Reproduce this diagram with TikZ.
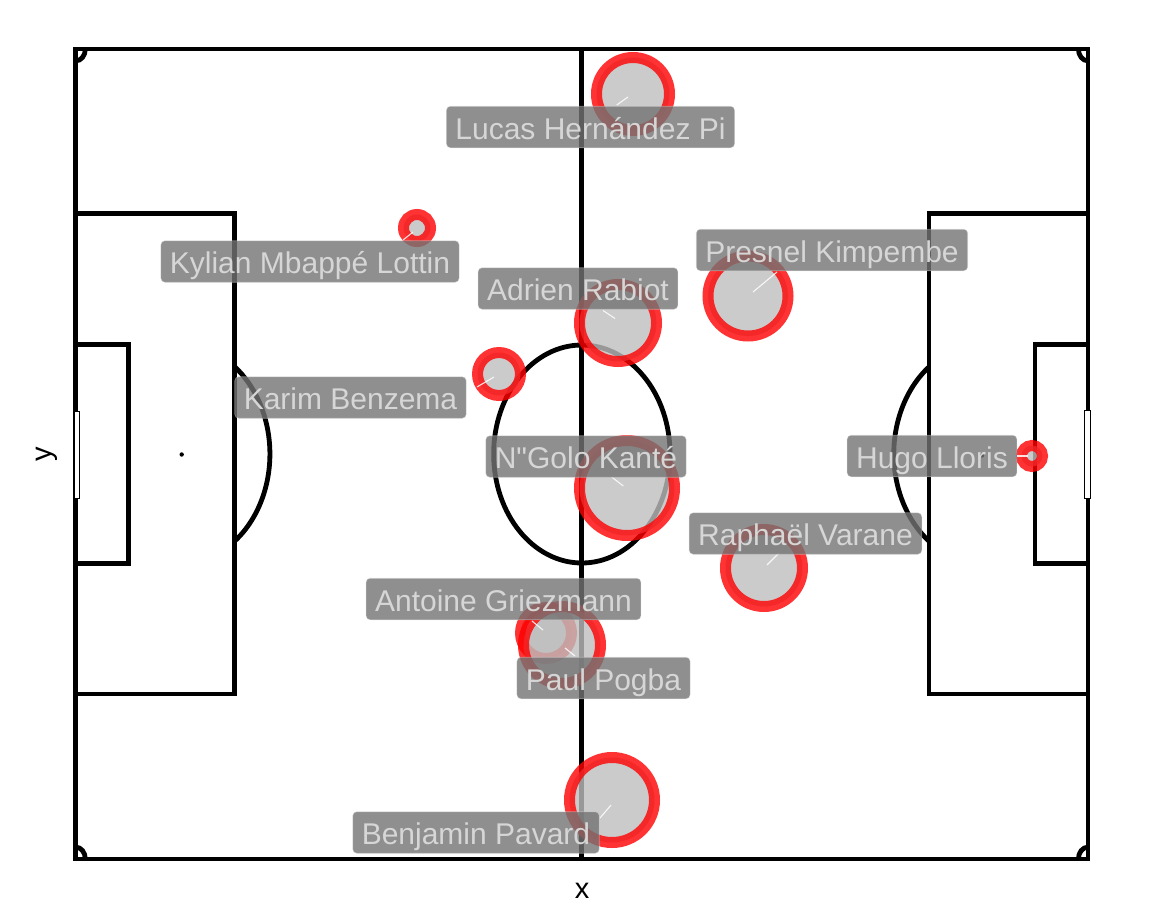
\documentclass[tikz,border=0pt]{standalone}
\usepackage{fontspec}
\setmainfont{Liberation Sans}
\newfontfamily\lblfont{Liberation Sans}
\definecolor{ptfill}{RGB}{190,190,190}
\definecolor{lblfill}{RGB}{115,115,115}
\definecolor{lbltext}{RGB}{214,214,214}
\begin{document}
\begin{tikzpicture}[x=0.5pt,y=-0.5pt,
  pitch/.style={line width=2.4pt, draw=black},
  player/.style={circle, inner sep=0pt, outer sep=0pt, fill=ptfill, fill opacity=0.8, draw=red, draw opacity=0.8, line width=5.5pt},
  lbl/.style={rounded corners=2pt, fill=lblfill, fill opacity=0.8, text opacity=1, draw=lbltext, draw opacity=0.5, line width=0.3pt, text=lbltext, font=\lblfont\fontsize{15pt}{18pt}\selectfont, inner xsep=4.5pt, inner ysep=0pt, text height=12.3pt, text depth=0pt, minimum height=20.75pt},
  seg/.style={draw=white, draw opacity=0.85, line width=0.55pt},
  axlab/.style={font=\fontsize{14.5pt}{17pt}\selectfont, text=black}]
\useasboundingbox (0,0) rectangle (1152,921);
\fill[white] (0,0) rectangle (1152,921);
% pitch
\draw[pitch] (75.7,49) rectangle (1088,859);
\draw[pitch] (581.85,49) -- (581.85,859);
\draw[pitch] (75.7,213.8) rectangle (234.8,694);
\draw[pitch] (75.7,344.8) rectangle (128.7,563.2);
\draw[pitch] (1088,213.8) rectangle (928.9,694);
\draw[pitch] (1088,344.8) rectangle (1035,563.2);
\draw[pitch] (581.85,454) ellipse [x radius=44.1pt, y radius=54.5pt];
\draw[pitch] (234.8,541) arc [start angle=-53, end angle=53, x radius=44.1pt, y radius=54.5pt];
\draw[pitch] (928.9,367) arc [start angle=127, end angle=233, x radius=44.1pt, y radius=54.5pt];
\draw[pitch] (85.34,49) arc [start angle=0, end angle=-90, x radius=4.82pt, y radius=5.95pt];
\draw[pitch] (1078.36,49) arc [start angle=180, end angle=270, x radius=4.82pt, y radius=5.95pt];
\draw[pitch] (85.34,859) arc [start angle=0, end angle=90, x radius=4.82pt, y radius=5.95pt];
\draw[pitch] (1078.36,859) arc [start angle=180, end angle=90, x radius=4.82pt, y radius=5.95pt];
\fill[black] (181.7,454.5) circle [radius=1.1pt];
\fill[black] (982,455.5) circle [radius=1.1pt];
\fill[black] (581.85,454) circle [radius=1.1pt];
\filldraw[fill=white, draw=black, line width=0.4pt] (74.7,411) rectangle (79.5,498.5);
\filldraw[fill=white, draw=black, line width=0.4pt] (1084.5,410.5) rectangle (1090,498.5);
% players
\node[player, minimum size=36.5pt] (p1) at (633,94) {};
\node[player, minimum size=13.5pt] (p2) at (417,228) {};
\node[player, minimum size=21.5pt] (p3) at (499,374) {};
\node[player, minimum size=38.5pt] (p4) at (618,323) {};
\node[player, minimum size=47.5pt] (p5) at (627,488) {};
\node[player, minimum size=40pt] (p6) at (748,296) {};
\node[player, minimum size=38.5pt] (p7) at (764,568) {};
\node[player, minimum size=10.5pt] (p8) at (1032,456) {};
\node[player, minimum size=25.5pt] (p9) at (546,633) {};
\node[player, minimum size=38.5pt] (p10) at (562,645) {};
\node[player, minimum size=42.5pt] (p11) at (612,800) {};
% segments
\coordinate (s1a) at (616.7,105); \coordinate (s1b) at (628,97);
\coordinate (s2a) at (403,240); \coordinate (s2b) at (413,232);
\coordinate (s3a) at (477,387); \coordinate (s3b) at (494,377);
\coordinate (s4a) at (603,310.5); \coordinate (s4b) at (615,318.5);
\coordinate (s5a) at (611.7,477); \coordinate (s5b) at (623.3,486);
\coordinate (s6a) at (753,292); \coordinate (s6b) at (777,272);
\coordinate (s7a) at (767,565); \coordinate (s7b) at (779,553);
\coordinate (s8a) at (1017,456); \coordinate (s8b) at (1028,456);
\coordinate (s9a) at (532,621); \coordinate (s9b) at (543,630);
\coordinate (s10a) at (565,648); \coordinate (s10b) at (575,656);
\coordinate (s11a) at (600,818); \coordinate (s11b) at (611,805);
\foreach \i in {1,...,11} {\draw[seg] (s\i a) -- (s\i b);}
% labels
\node[lbl] (l1) at (590.5,127) {Lucas Hernández Pi};
\node[lbl] (l2) at (310,261.5) {Kylian Mbappé Lottin};
\node[lbl] (l3) at (350.5,397.5) {Karim Benzema};
\node[lbl] (l4) at (578,288.5) {Adrien Rabiot};
\node[lbl] (l5) at (586,456.5) {N"Golo Kanté};
\node[lbl] (l6) at (832,250) {Presnel Kimpembe};
\node[lbl] (l7) at (805.5,533.5) {Raphaël Varane};
\node[lbl] (l8) at (932,456) {Hugo Lloris};
\node[lbl] (l9) at (503.5,599) {Antoine Griezmann};
\node[lbl] (l10) at (603.5,678) {Paul Pogba};
\node[lbl] (l11) at (476,832.5) {Benjamin Pavard};
% axis titles
\node[axlab] (xt) at (582,891) {x};
\node[axlab, rotate=90] (yt) at (47,454) {y};
\end{tikzpicture}
\end{document}
